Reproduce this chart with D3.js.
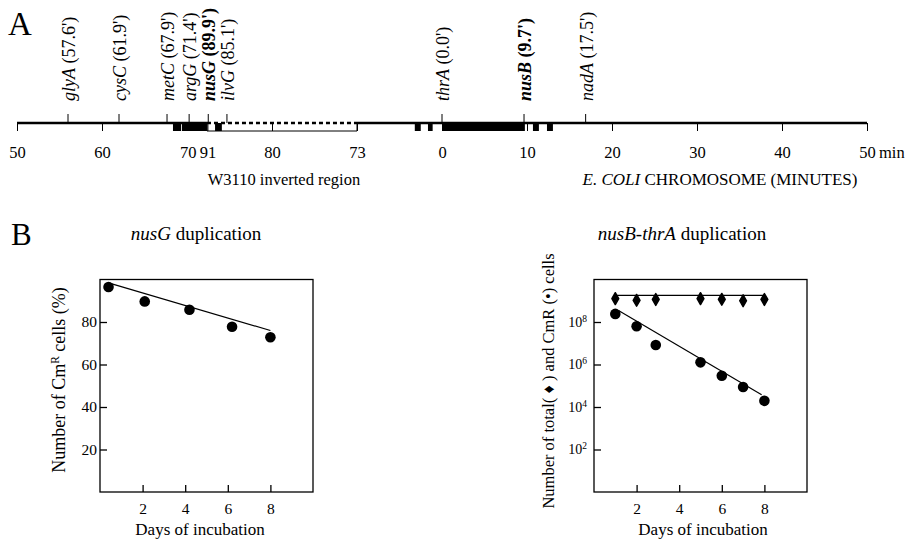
<!DOCTYPE html>
<html>
<head>
<meta charset="utf-8">
<script src="https://cdn.jsdelivr.net/npm/d3@7"></script>
<style>
  body { margin: 0; background: #fff; }
  svg { font-family: 'Liberation Serif', 'Times New Roman', serif; }
</style>
</head>
<body>
<svg id="chart" width="907" height="540"></svg>
<script>
// Panel A, chromosome map. Positions are in map units along the drawn line (10 units = one 10 min step)
const mapTickLabels = ['50', '60', '70', '91', '80', '73', '0', '10', '20', '30', '40', '50']
const mapTickPos = [0, 10, 20.1, 22.4, 30, 40, 50, 60, 70, 80, 90, 100]
const genes = ['glyA', 'cysC', 'metC', 'argG', 'nusG', 'ilvG', 'thrA', 'nusB', 'nadA']
const geneMinutes = ["57.6'", "61.9'", "67.9'", "71.4'", "89.9'", "85.1'", "0.0'", "9.7'", "17.5'"]
const genePos = [6, 12, 17.65, 20.25, 22.5, 24.7, 50, 59.65, 66.9]
const boldGenes = ['nusG', 'nusB']
const blockStart = [18.35, 19.4, 23.3, 46.8, 48.35, 50, 60.7, 62.35]
const blockEnd = [19.3, 22.35, 24.1, 47.5, 48.9, 59.75, 61.4, 63.05]
const invertedRegion = [22.35, 40]

// Panel B left, nusG duplication
const nusgDays = [0.4, 2.1, 4.2, 6.2, 8.0]
const nusgPct = [96.5, 89.7, 85.8, 77.8, 72.8]
const nusgFitDays = [0.4, 8.0]
const nusgFitPct = [98.4, 76]

// Panel B right, nusB-thrA duplication
const dupDays = [1, 2, 2.9, 5, 6, 7, 8]
const dupTotal = [1.26e9, 1.05e9, 1.15e9, 1.26e9, 1.17e9, 1.0e9, 1.15e9]
const dupCmR = [2.4e8, 6.3e7, 8.3e6, 1.26e6, 2.95e5, 8.7e4, 1.95e4]
const totalFitDays = [1, 8]
const totalFit = [1.78e9, 1.78e9]
const cmrFitDays = [1.15, 7.87]
const cmrFit = [3.5e8, 3.8e4]

const svg = d3.select('#chart')

// ---------- panel A ----------
const lineY = 123
const x = d3.scaleLinear().domain([0, 100]).range([17, 867])

svg.append('text').attr('x', 8).attr('y', 35).attr('font-size', 33).text('A')

// main chromosome line, solid outside the inverted region
svg.append('g').selectAll('line')
  .data([[0, invertedRegion[0]], [invertedRegion[1], 100]])
  .enter().append('line')
    .attr('x1', (d) => x(d[0]))
    .attr('x2', (d) => x(d[1]))
    .attr('y1', lineY).attr('y2', lineY)
    .attr('stroke', '#000').attr('stroke-width', 2.6)

// inverted region: dashed top, thin bottom
const inv = svg.append('g')
inv.append('line')
  .attr('x1', x(invertedRegion[0])).attr('x2', x(invertedRegion[1]))
  .attr('y1', lineY).attr('y2', lineY)
  .attr('stroke', '#000').attr('stroke-width', 2.6).attr('stroke-dasharray', '4,3')
inv.append('line')
  .attr('x1', x(invertedRegion[0])).attr('x2', x(invertedRegion[1]))
  .attr('y1', lineY + 8).attr('y2', lineY + 8)
  .attr('stroke', '#000').attr('stroke-width', 1)
inv.selectAll('line.end')
  .data(invertedRegion)
  .enter().append('line')
    .attr('class', 'end')
    .attr('x1', (d) => x(d)).attr('x2', (d) => x(d))
    .attr('y1', lineY).attr('y2', lineY + 8)
    .attr('stroke', '#000').attr('stroke-width', 1)

// axis with minute labels
const mapAxis = d3.axisBottom(x)
  .tickValues(mapTickPos)
  .tickFormat((d, i) => mapTickLabels[i])
  .tickSize(8)
  .tickSizeOuter(0)
  .tickPadding(15)
const gMap = svg.append('g')
  .attr('transform', `translate(0,${lineY})`)
  .call(mapAxis)
gMap.select('.domain').remove()
gMap.attr('font-family', null)
gMap.selectAll('line').attr('stroke-width', 1)
gMap.selectAll('text').attr('font-size', 16.5).attr('fill', '#000')
svg.append('text')
  .attr('x', x(100) + 12).attr('y', lineY + 35)
  .attr('font-size', 16.5).text('min')

// duplicated blocks below the line
svg.append('g').selectAll('rect')
  .data(blockStart)
  .enter().append('rect')
    .attr('x', (d) => x(d))
    .attr('width', (d, i) => x(blockEnd[i]) - x(d))
    .attr('y', lineY)
    .attr('height', 8)
    .attr('fill', '#000')

// gene ticks and labels
svg.append('g').selectAll('line')
  .data(genePos)
  .enter().append('line')
    .attr('x1', (d) => x(d)).attr('x2', (d) => x(d))
    .attr('y1', lineY - 9).attr('y2', lineY)
    .attr('stroke', '#000').attr('stroke-width', 1)

// push crowded labels apart
var labelX = genePos.map((p) => x(p) + 7)
for (var i = 1; i < labelX.length; i++) {
  if (labelX[i] - labelX[i - 1] < 18.5) labelX[i] = labelX[i - 1] + 18.5
}

const geneLabel = svg.append('g').selectAll('text')
  .data(genes)
  .enter().append('text')
    .attr('transform', (d, i) => `translate(${labelX[i]},101) rotate(-90)`)
    .attr('font-size', 18)
    .attr('font-weight', (d) => boldGenes.includes(d) ? 'bold' : null)
geneLabel.append('tspan').attr('font-style', 'italic').text((d) => d)
geneLabel.append('tspan').text((d, i) => ` (${geneMinutes[i]})`)

svg.append('text')
  .attr('x', 284).attr('y', 185)
  .attr('text-anchor', 'middle').attr('font-size', 16.5)
  .text('W3110 inverted region')
const ecoli = svg.append('text')
  .attr('x', 720).attr('y', 185)
  .attr('text-anchor', 'middle').attr('font-size', 17)
ecoli.append('tspan').attr('font-style', 'italic').text('E. COLI')
ecoli.append('tspan').text(' CHROMOSOME (MINUTES)')

// ---------- panel B ----------
svg.append('text').attr('x', 11).attr('y', 245).attr('font-size', 31).text('B')

const plotTop = 279.5
const plotBottom = 492

function frame (x0, x1) {
  svg.append('rect')
    .attr('x', x0).attr('y', plotTop)
    .attr('width', x1 - x0).attr('height', plotBottom - plotTop)
    .attr('fill', 'none').attr('stroke', '#000').attr('stroke-width', 1.3)
}

function styleAxis (g, size) {
  g.select('.domain').remove()
  g.attr('font-family', null)
  g.selectAll('line').attr('stroke-width', 1.3)
  g.selectAll('text').attr('font-size', size).attr('fill', '#000')
}

// left plot
const xL = d3.scaleLinear().domain([0, 10]).range([100, 313])
const yL = d3.scaleLinear().domain([0, 100]).range([plotBottom, plotTop])
frame(100, 313)

svg.append('g')
  .attr('transform', `translate(0,${plotBottom})`)
  .call(d3.axisBottom(xL).tickValues([2, 4, 6, 8]).tickSize(-7).tickSizeOuter(0).tickPadding(11))
  .call((g) => styleAxis(g, 15.5))
svg.append('g')
  .attr('transform', 'translate(100,0)')
  .call(d3.axisLeft(yL).tickValues([20, 40, 60, 80]).tickSize(-7).tickSizeOuter(0).tickPadding(3))
  .call((g) => styleAxis(g, 15.5))

const fitLine = d3.line()
svg.append('path')
  .attr('d', fitLine(nusgFitDays.map((d, i) => [xL(d), yL(nusgFitPct[i])])))
  .attr('fill', 'none').attr('stroke', '#000').attr('stroke-width', 1.2)

svg.append('g').selectAll('circle')
  .data(nusgDays)
  .enter().append('circle')
    .attr('cx', (d) => xL(d))
    .attr('cy', (d, i) => yL(nusgPct[i]))
    .attr('r', 5.3)
    .attr('fill', '#000')

const titleL = svg.append('text')
  .attr('x', 196).attr('y', 240)
  .attr('text-anchor', 'middle').attr('font-size', 19)
titleL.append('tspan').attr('font-style', 'italic').text('nusG')
titleL.append('tspan').text(' duplication')

const yLabelL = svg.append('text')
  .attr('transform', 'translate(65,380) rotate(-90)')
  .attr('text-anchor', 'middle').attr('font-size', 18)
yLabelL.append('tspan').text('Number of Cm')
yLabelL.append('tspan').attr('dy', -6).attr('font-size', 11.5).text('R')
yLabelL.append('tspan').attr('dy', 6).text(' cells (%)')

svg.append('text')
  .attr('x', 200).attr('y', 535)
  .attr('text-anchor', 'middle').attr('font-size', 17)
  .text('Days of incubation')

// right plot
const xR = d3.scaleLinear().domain([0, 10]).range([594, 807])
const yR = d3.scaleLog().domain([1, 1e10]).range([plotBottom, plotTop])
frame(594, 807)

svg.append('g')
  .attr('transform', `translate(0,${plotBottom})`)
  .call(d3.axisBottom(xR).tickValues([2, 4, 6, 8]).tickSize(-7).tickSizeOuter(0).tickPadding(11))
  .call((g) => styleAxis(g, 15.5))
const gyR = svg.append('g')
  .attr('transform', 'translate(594,0)')
  .call(d3.axisLeft(yR).tickValues([1e2, 1e4, 1e6, 1e8]).tickSize(-7).tickSizeOuter(0).tickPadding(7).tickFormat(''))
  .call((g) => styleAxis(g, 14))
gyR.selectAll('text').each(function (d) {
  var t = d3.select(this)
  t.append('tspan').text('10')
  t.append('tspan').attr('dy', -5).attr('font-size', 9.5).text(Math.round(Math.log10(d)))
})

svg.append('path')
  .attr('d', fitLine(totalFitDays.map((d, i) => [xR(d), yR(totalFit[i])])))
  .attr('fill', 'none').attr('stroke', '#000').attr('stroke-width', 1.2)
svg.append('path')
  .attr('d', fitLine(cmrFitDays.map((d, i) => [xR(d), yR(cmrFit[i])])))
  .attr('fill', 'none').attr('stroke', '#000').attr('stroke-width', 1.2)

const diamond = d3.symbol().type(d3.symbolDiamond).size(40)
svg.append('g').selectAll('path')
  .data(dupDays)
  .enter().append('path')
    .attr('d', diamond)
    .attr('transform', (d, i) => `translate(${xR(d)},${yR(dupTotal[i])})`)
    .attr('fill', '#000').attr('stroke', '#000').attr('stroke-width', 1.5)
    .attr('stroke-linejoin', 'round')

svg.append('g').selectAll('circle')
  .data(dupDays)
  .enter().append('circle')
    .attr('cx', (d) => xR(d))
    .attr('cy', (d, i) => yR(dupCmR[i]))
    .attr('r', 5.3)
    .attr('fill', '#000')

const titleR = svg.append('text')
  .attr('x', 682).attr('y', 240)
  .attr('text-anchor', 'middle').attr('font-size', 19)
titleR.append('tspan').attr('font-style', 'italic').text('nusB-thrA')
titleR.append('tspan').text(' duplication')

svg.append('text')
  .attr('transform', 'translate(554,381) rotate(-90)')
  .attr('text-anchor', 'middle').attr('font-size', 16.5)
  .text('Number of total( \u2666 ) and CmR (\u2022) cells')

svg.append('text')
  .attr('x', 703).attr('y', 535)
  .attr('text-anchor', 'middle').attr('font-size', 17)
  .text('Days of incubation')
</script>
</body>
</html>
